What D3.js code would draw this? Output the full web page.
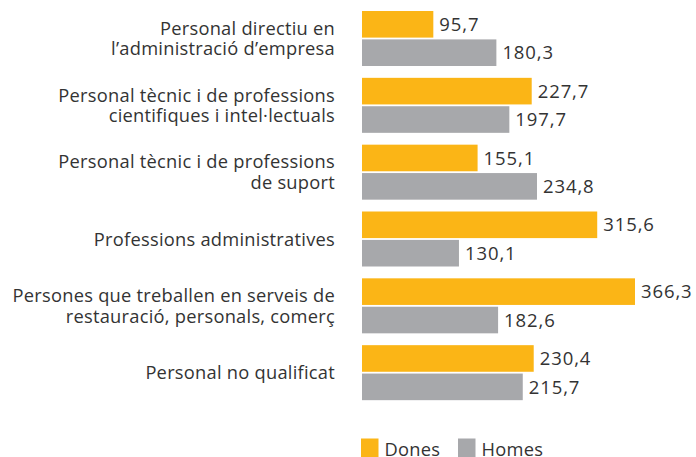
<!DOCTYPE html>
<html><head><meta charset="utf-8">
<script src="https://cdn.jsdelivr.net/npm/d3@7"></script>
<style>body{margin:0;background:#fff}svg{display:block}text{font-family:"Open Sans",sans-serif;fill:#333}</style>
</head><body><svg id="c" width="696" height="457"></svg>
<script>
const categories = [
  ["Personal directiu en","l\u2019administració d\u2019empresa"],
  ["Personal tècnic i de professions","cientifiques i intel·lectuals"],
  ["Personal tècnic i de professions","de suport"],
  ["Professions administratives"],
  ["Persones que treballen en serveis de","restauració, personals, comerç"],
  ["Personal no qualificat"]
];
const dones = [95.7, 227.7, 155.1, 315.6, 366.3, 230.4];
const homes = [180.3, 197.7, 234.8, 130.1, 182.6, 215.7];
const seriesNames = ["Dones","Homes"];
const colors = ["#FBB516","#A7A8AB"];

const svg = d3.select("#c");
const x = d3.scaleLinear().domain([0, 366.3]).range([362, 635]);
const y = d3.scaleBand().domain(d3.range(categories.length)).range([11, 412]).paddingInner(0).paddingOuter(0);
const fmt = v => d3.format(".1f")(v).replace(".", ",");
const barH = 26.6, gap = 1.8;

categories.forEach((lines, i) => {
  const g0 = y(i);
  const vals = [dones[i], homes[i]];
  vals.forEach((v, j) => {
    const yy = g0 + j * (barH + gap);
    svg.append("rect").attr("x", x(0)).attr("y", yy).attr("width", x(v) - x(0)).attr("height", barH).attr("fill", colors[j]);
    svg.append("text").attr("x", x(v) + 6).attr("y", yy + barH / 2).attr("dy", "0.36em")
      .attr("font-size", 18.5).attr("letter-spacing", 0.9).text(fmt(v));
  });
  const cy = g0 + barH + gap / 2;
  const lh = 20.6;
  lines.forEach((t, k) => {
    svg.append("text").attr("x", 335).attr("y", cy + (k - (lines.length - 1) / 2) * lh)
      .attr("dy", "0.36em").attr("text-anchor", "end").attr("font-size", 18.3).attr("letter-spacing", 0.25).text(t);
  });
});

const lx = [361, 458];
seriesNames.forEach((n, j) => {
  svg.append("rect").attr("x", lx[j]).attr("y", 438.5).attr("width", 17.5).attr("height", 19).attr("fill", colors[j]);
  svg.append("text").attr("x", lx[j] + 23.5).attr("y", 455.5).attr("font-size", 18.3).attr("letter-spacing", 0.25).text(n);
});
</script></body></html>
